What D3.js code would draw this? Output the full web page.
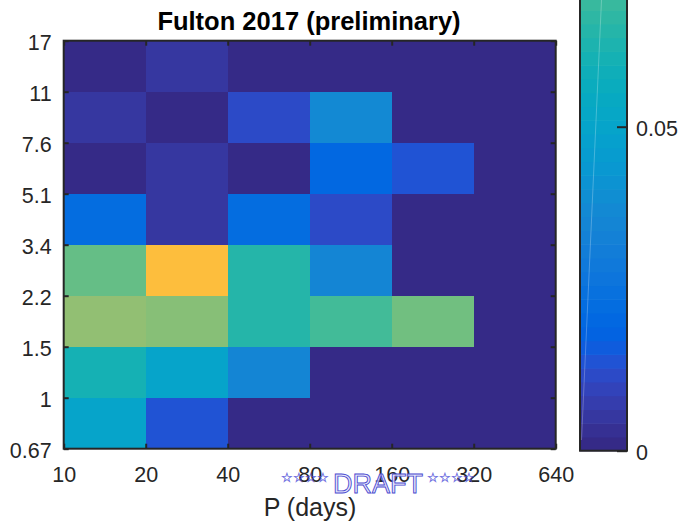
<!DOCTYPE html>
<html>
<head>
<meta charset="utf-8">
<script src="https://cdn.jsdelivr.net/npm/d3@7/dist/d3.min.js"></script>
<style>
  html, body { margin: 0; padding: 0; background: #fff; }
  svg { display: block; font-family: "Liberation Sans", Arial, Helvetica, sans-serif; }
</style>
</head>
<body>
<svg id="chart" width="679" height="524"></svg>
<script>
// ---- data ----
const titleText = "Fulton 2017 (preliminary)";
const xLabelText = "P (days)";
const periodEdges = [10, 20, 40, 80, 160, 320, 640];
const radiusEdgeLabels = ["0.67", "1", "1.5", "2.2", "3.4", "5.1", "7.6", "11", "17"];
// rows from bottom (0.67-1 Re) to top (11-17 Re); columns = period bins
const row0 = [0.0510, 0.0138, 0, 0, 0, 0];
const row1 = [0.0606, 0.0500, 0.0351, 0, 0, 0];
const row2 = [0.0861, 0.0839, 0.0648, 0.0712, 0.0797, 0];
const row3 = [0.0776, 0.1137, 0.0648, 0.0351, 0, 0];
const row4 = [0.0223, 0.0053, 0.0223, 0.0117, 0, 0];
const row5 = [0, 0.0053, 0, 0.0202, 0.0138, 0];
const row6 = [0.0053, 0, 0.0117, 0.0372, 0, 0];
const row7 = [0, 0.0053, 0, 0, 0, 0];
const occurrence = [row0, row1, row2, row3, row4, row5, row6, row7];
const colorMax = 0.136;
const colorbarTicks = [0, 0.05];
const watermarkText = "DRAFT";
const watermarkStars = "☆☆☆☆";

// parula (64)
const parula = [
[0.2081,0.1663,0.5292],[0.2116,0.1898,0.5777],[0.2123,0.2138,0.6270],[0.2081,0.2386,0.6771],
[0.1959,0.2645,0.7279],[0.1707,0.2919,0.7792],[0.1253,0.3242,0.8303],[0.0591,0.3598,0.8683],
[0.0117,0.3875,0.8820],[0.0060,0.4086,0.8828],[0.0165,0.4266,0.8786],[0.0329,0.4430,0.8720],
[0.0498,0.4586,0.8641],[0.0629,0.4737,0.8554],[0.0723,0.4887,0.8467],[0.0779,0.5040,0.8384],
[0.0793,0.5200,0.8312],[0.0749,0.5375,0.8263],[0.0641,0.5570,0.8240],[0.0488,0.5772,0.8228],
[0.0343,0.5966,0.8199],[0.0265,0.6137,0.8135],[0.0239,0.6287,0.8038],[0.0231,0.6418,0.7913],
[0.0228,0.6535,0.7768],[0.0267,0.6642,0.7607],[0.0384,0.6743,0.7436],[0.0590,0.6838,0.7254],
[0.0843,0.6928,0.7062],[0.1133,0.7015,0.6859],[0.1453,0.7098,0.6646],[0.1801,0.7177,0.6424],
[0.2178,0.7250,0.6193],[0.2586,0.7317,0.5954],[0.3022,0.7376,0.5712],[0.3482,0.7424,0.5473],
[0.3953,0.7459,0.5244],[0.4420,0.7481,0.5033],[0.4871,0.7491,0.4840],[0.5300,0.7491,0.4661],
[0.5709,0.7485,0.4494],[0.6099,0.7473,0.4337],[0.6473,0.7456,0.4188],[0.6834,0.7435,0.4044],
[0.7184,0.7411,0.3905],[0.7525,0.7384,0.3768],[0.7858,0.7356,0.3633],[0.8185,0.7327,0.3498],
[0.8507,0.7299,0.3360],[0.8824,0.7274,0.3217],[0.9139,0.7258,0.3063],[0.9450,0.7261,0.2886],
[0.9739,0.7314,0.2666],[0.9938,0.7455,0.2403],[0.9990,0.7653,0.2164],[0.9955,0.7861,0.1967],
[0.9880,0.8066,0.1794],[0.9789,0.8271,0.1633],[0.9697,0.8481,0.1475],[0.9626,0.8705,0.1309],
[0.9589,0.8949,0.1132],[0.9598,0.9218,0.0948],[0.9661,0.9514,0.0755],[0.9763,0.9831,0.0538]
].map(c => d3.rgb(c[0]*255, c[1]*255, c[2]*255).formatHex());

// ---- layout ----
const svg = d3.select("#chart");
const plot = { left: 63.7, right: 555.7, top: 40.7, bottom: 448.7 };
const cb = { left: 580, right: 627, bottom: 450.7 };
const axisColor = "#262626";

const x = d3.scaleLog().domain([periodEdges[0], periodEdges[periodEdges.length - 1]])
  .range([plot.left, plot.right]);
const y = d3.scaleLinear().domain([0, radiusEdgeLabels.length - 1])
  .range([plot.bottom, plot.top]);
const color = d3.scaleQuantize().domain([0, colorMax]).range(parula);

// cells
const cells = [];
occurrence.forEach((row, ri) => row.forEach((v, ci) => cells.push({ ri, ci, v })));
svg.append("g").selectAll("rect").data(cells).join("rect")
  .attr("x", d => x(periodEdges[d.ci]))
  .attr("width", d => x(periodEdges[d.ci + 1]) - x(periodEdges[d.ci]) + 0.5)
  .attr("y", d => y(d.ri + 1))
  .attr("height", d => y(d.ri) - y(d.ri + 1) + 0.5)
  .attr("fill", d => color(d.v))
  .attr("shape-rendering", "crispEdges");

// axes
const fontTick = 21.5;
const xAxisB = d3.axisBottom(x).tickValues(periodEdges).tickFormat(d3.format("d"))
  .tickSizeInner(-5).tickSizeOuter(0).tickPadding(18);
const xAxisT = d3.axisTop(x).tickValues(periodEdges).tickFormat("")
  .tickSizeInner(-5).tickSizeOuter(0);
const yIdx = d3.range(radiusEdgeLabels.length);
const yAxisL = d3.axisLeft(y).tickValues(yIdx).tickFormat(i => radiusEdgeLabels[i])
  .tickSizeInner(-5).tickSizeOuter(0).tickPadding(12);
const yAxisR = d3.axisRight(y).tickValues(yIdx).tickFormat("")
  .tickSizeInner(-5).tickSizeOuter(0);

function styleAxis(g) {
  g.select(".domain").remove();
  g.selectAll(".tick line").attr("stroke", axisColor).attr("stroke-width", 2);
  g.selectAll(".tick text").attr("fill", axisColor).attr("font-size", fontTick)
    .attr("font-family", "Liberation Sans, Arial, sans-serif");
}
svg.append("g").attr("transform", `translate(0,${plot.bottom})`).call(xAxisB).call(styleAxis)
  .selectAll(".tick text").attr("dy", "0.71em");
svg.append("g").attr("transform", `translate(0,${plot.top})`).call(xAxisT).call(styleAxis);
svg.append("g").attr("transform", `translate(${plot.left},0)`).call(yAxisL).call(styleAxis)
  .selectAll(".tick text").attr("dy", "0.42em");
svg.append("g").attr("transform", `translate(${plot.right},0)`).call(yAxisR).call(styleAxis);

svg.append("rect")
  .attr("x", plot.left).attr("y", plot.top)
  .attr("width", plot.right - plot.left).attr("height", plot.bottom - plot.top)
  .attr("fill", "none").attr("stroke", axisColor).attr("stroke-width", 2);

// title and label
svg.append("text").attr("x", 309).attr("y", 30)
  .attr("text-anchor", "middle").attr("font-weight", "bold").attr("font-size", 25.5)
  .attr("fill", "#000").text(titleText);
svg.append("text").attr("x", 310).attr("y", 516)
  .attr("text-anchor", "middle").attr("font-size", 25)
  .attr("fill", axisColor).text(xLabelText);

// colorbar
const cbScale = d3.scaleLinear().domain([0, 0.05]).range([cb.bottom, 126.7]);
const cbTop = cbScale(colorMax);
const bandData = parula.map((c, i) => ({ c, lo: i * colorMax / 64, hi: (i + 1) * colorMax / 64 }));
svg.append("g").selectAll("rect").data(bandData).join("rect")
  .attr("x", cb.left).attr("width", cb.right - cb.left)
  .attr("y", d => cbScale(d.hi)).attr("height", d => cbScale(d.lo) - cbScale(d.hi) + 0.6)
  .attr("fill", d => d.c);
// faint rendering streak seen in the reference
svg.append("line").attr("x1", 601.5).attr("y1", 0).attr("x2", 581.5).attr("y2", 440)
  .attr("stroke", "#ffffff").attr("stroke-opacity", 0.25).attr("stroke-width", 1);
svg.append("rect").attr("x", cb.left).attr("y", cbTop)
  .attr("width", cb.right - cb.left).attr("height", cb.bottom - cbTop)
  .attr("fill", "none").attr("stroke", axisColor).attr("stroke-width", 2);
const cbAxis = d3.axisRight(cbScale).tickValues(colorbarTicks).tickFormat(d => d === 0 ? "0" : d3.format(".2f")(d))
  .tickSizeInner(-10).tickSizeOuter(0).tickPadding(9);
svg.append("g").attr("transform", `translate(${cb.right},0)`).call(cbAxis).call(styleAxis)
  .selectAll(".tick text").attr("dy", "0.42em");

// watermark
const wm = svg.append("g").attr("class", "watermark");
wm.append("text").attr("x", 305).attr("y", 482).attr("text-anchor", "middle")
  .attr("font-size", 13).attr("font-weight", "bold").attr("fill", "#4f4fd8").attr("fill-opacity", 0.8)
  .text(watermarkStars);
wm.append("text").attr("x", 378).attr("y", 493).attr("text-anchor", "middle")
  .attr("font-size", 27).attr("fill", "#e4e4fa").attr("stroke", "#4b4bd0").attr("stroke-width", 0.9)
  .attr("fill-opacity", 0.85).text(watermarkText);
wm.append("text").attr("x", 451).attr("y", 482).attr("text-anchor", "middle")
  .attr("font-size", 13).attr("font-weight", "bold").attr("fill", "#4f4fd8").attr("fill-opacity", 0.8)
  .text(watermarkStars);
</script>
</body>
</html>
